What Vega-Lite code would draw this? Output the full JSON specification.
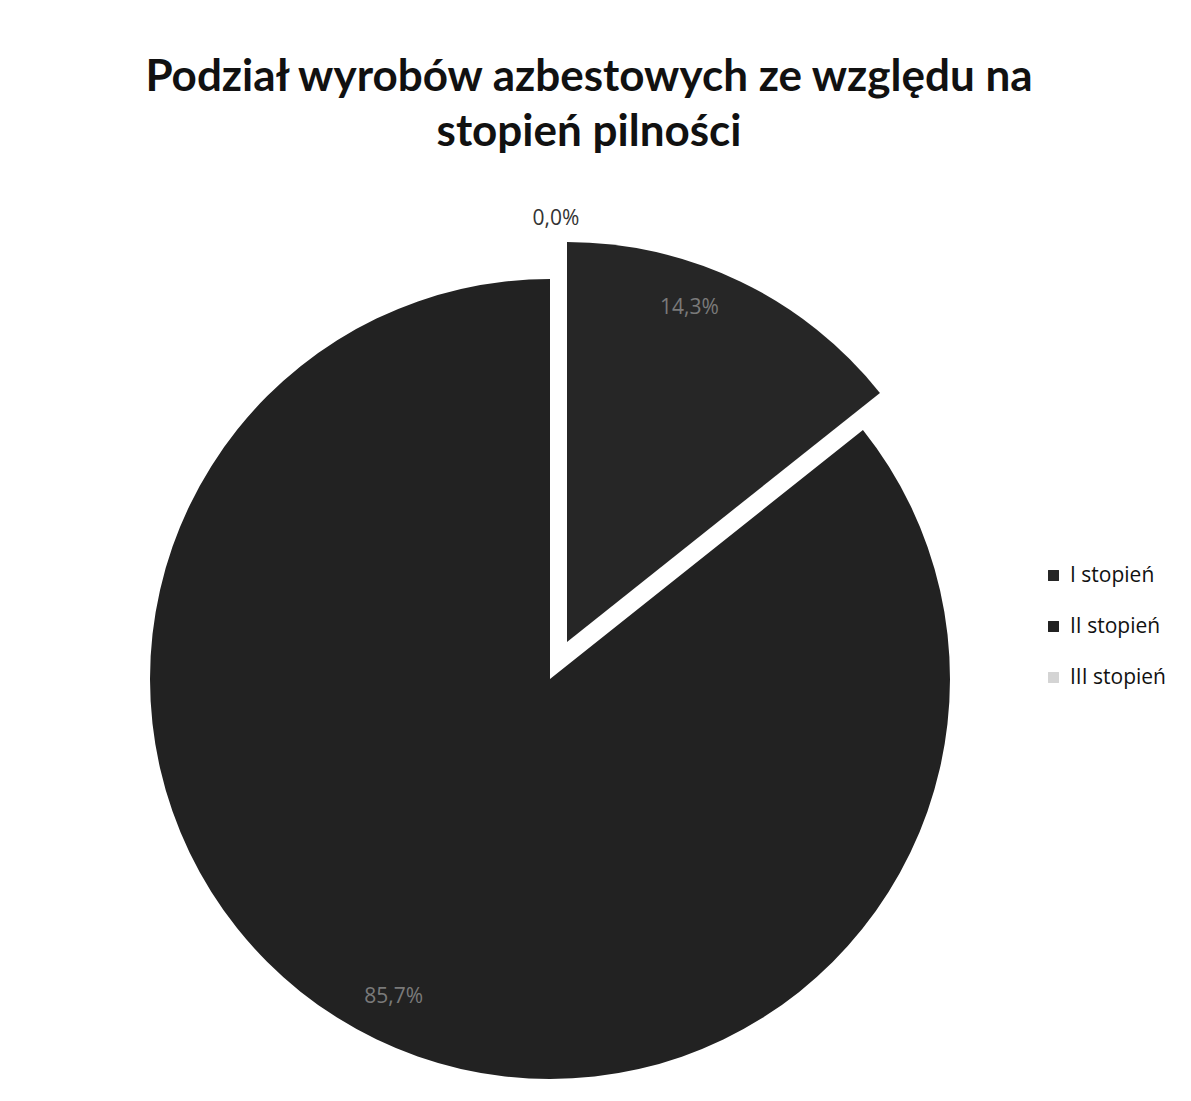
{
  "$schema": "https://vega.github.io/schema/vega-lite/v6.json",
  "autosize": "none",
  "width": 800,
  "height": 800,
  "padding": {"left": 150, "top": 279, "right": 241, "bottom": 22},
  "background": "white",
  "title": {
    "text": ["Podział wyrobów azbestowych ze względu na", "stopień pilności"],
    "font": "Lato",
    "fontWeight": "bold",
    "fontSize": 44,
    "lineHeight": 55,
    "color": "#111111",
    "anchor": "middle",
    "dx": 39,
    "offset": 53
  },
  "config": {"view": {"stroke": null}},
  "data": {
    "values": [
      {"cat": "I stopień", "value": 14.3, "label": "14,3%"},
      {"cat": "II stopień", "value": 85.7, "label": "85,7%"},
      {"cat": "III stopień", "value": 0.0, "label": "0,0%"}
    ]
  },
  "layer": [
    {
      "mark": {"type": "arc", "outerRadius": 400, "strokeWidth": 0},
      "encoding": {
        "theta": {"field": "value", "type": "quantitative", "stack": true},
        "color": {
          "field": "cat",
          "type": "nominal",
          "scale": {"domain": ["I stopień", "II stopień", "III stopień"], "range": ["#262626", "#222222", "#d4d4d4"]},
          "legend": {
            "title": null,
            "orient": "none",
            "legendX": 893,
            "legendY": 286,
            "symbolType": "square",
            "symbolSize": 120,
            "symbolStrokeWidth": 0,
            "labelFont": "Open Sans",
            "labelFontSize": 21,
            "labelColor": "#111111",
            "labelOffset": 6,
            "rowPadding": 29
          }
        },
        "opacity": {"condition": {"test": "datum.cat === 'I stopień'", "value": 0}, "value": 1},
        "order": {"field": "cat", "type": "nominal"}
      }
    },
    {
      "mark": {"type": "arc", "outerRadius": 400, "strokeWidth": 0, "xOffset": 17, "yOffset": -37},
      "encoding": {
        "theta": {"field": "value", "type": "quantitative", "stack": true},
        "color": {"field": "cat", "type": "nominal"},
        "opacity": {"condition": {"test": "datum.cat === 'I stopień'", "value": 1}, "value": 0},
        "order": {"field": "cat", "type": "nominal"}
      }
    },
    {
      "mark": {"type": "text", "radius": 360, "font": "Open Sans", "fontSize": 21, "color": "#7a7a7a", "dx": -17, "dy": -47},
      "encoding": {
        "theta": {"field": "value", "type": "quantitative", "stack": true},
        "text": {"condition": {"test": "datum.cat !== 'I stopień'", "value": ""}, "field": "label"},
        "order": {"field": "cat", "type": "nominal"}
      }
    },
    {
      "mark": {"type": "text", "radius": 360, "font": "Open Sans", "fontSize": 21, "color": "#7a7a7a", "dy": -6},
      "encoding": {
        "theta": {"field": "value", "type": "quantitative", "stack": true},
        "text": {"condition": {"test": "datum.cat !== 'II stopień'", "value": ""}, "field": "label"},
        "order": {"field": "cat", "type": "nominal"}
      }
    },
    {
      "mark": {"type": "text", "radius": 460, "font": "Open Sans", "fontSize": 21, "color": "#333333", "dx": 6},
      "encoding": {
        "theta": {"field": "value", "type": "quantitative", "stack": true},
        "text": {"condition": {"test": "datum.cat !== 'III stopień'", "value": ""}, "field": "label"},
        "order": {"field": "cat", "type": "nominal"}
      }
    }
  ]
}
